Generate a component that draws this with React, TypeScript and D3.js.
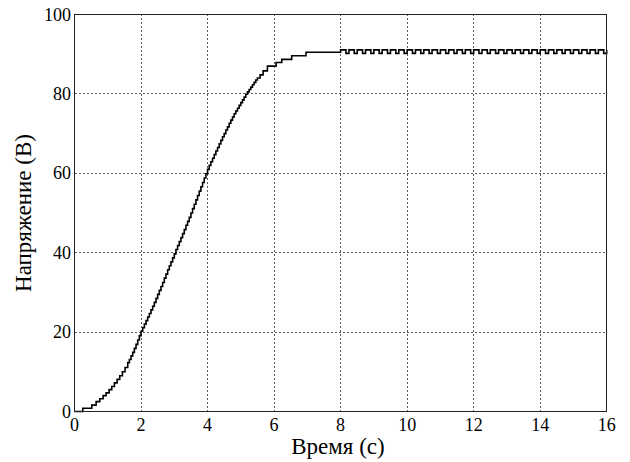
import React from "react";
import * as d3 from "d3";

const X_TICKS = [0, 2, 4, 6, 8, 10, 12, 14, 16];
const Y_TICKS = [0, 20, 40, 60, 80, 100];
const X_LABEL = "Время (с)";
const Y_LABEL = "Напряжение (В)";

const RISE_T = [
  0, 0.25, 0.52, 0.65, 0.76, 0.86, 0.95, 1.04, 1.12, 1.2, 1.28, 1.36, 1.44, 1.52,
  1.6, 1.65, 1.7, 1.75, 1.8, 1.85, 1.9, 1.95, 2.0, 2.05, 2.1, 2.15, 2.2, 2.25, 2.3, 2.35,
  2.4, 2.45, 2.5, 2.55, 2.6, 2.65, 2.7, 2.75, 2.8, 2.85, 2.9, 2.95, 3.0, 3.05, 3.1, 3.15,
  3.2, 3.25, 3.3, 3.35, 3.4, 3.45, 3.5, 3.55, 3.6, 3.65, 3.7, 3.75, 3.8, 3.85, 3.9, 3.95,
  4.0, 4.05, 4.1, 4.15, 4.2, 4.25, 4.3, 4.35, 4.4, 4.45, 4.5, 4.55, 4.6, 4.65, 4.7, 4.75,
  4.8, 4.85, 4.9, 4.95, 5.0, 5.05, 5.1, 5.15, 5.2, 5.25, 5.3, 5.35, 5.4, 5.45, 5.5,
  5.58, 5.67, 5.8, 6.06, 6.23, 6.53, 6.96,
];
const RISE_V = [
  0, 0.8, 1.6, 2.5, 3.2, 4.0, 4.7, 5.5, 6.3, 7.2, 8.1, 9.0, 10.0, 11.1,
  12.3, 13.1, 14.0, 14.9, 15.9, 16.9, 18.0, 19.1, 20.2, 21.1, 22.0, 22.9, 23.8, 24.7, 25.6, 26.5,
  27.5, 28.5, 29.5, 30.5, 31.5, 32.5, 33.6, 34.6, 35.7, 36.7, 37.7, 38.7, 39.7, 40.8, 41.8, 42.8,
  43.8, 44.8, 45.8, 46.9, 47.9, 48.9, 50.0, 51.1, 52.2, 53.3, 54.4, 55.5, 56.6, 57.7, 58.8, 59.9,
  61.0, 62.0, 62.9, 63.8, 64.7, 65.6, 66.5, 67.4, 68.3, 69.2, 70.0, 70.9, 71.7, 72.6, 73.4, 74.2,
  75.0, 75.7, 76.4, 77.1, 77.8, 78.5, 79.2, 79.9, 80.5, 81.1, 81.7, 82.3, 82.9, 83.5, 84.0,
  84.8, 85.8, 87.0, 87.9, 88.7, 89.6, 90.5,
];
const OSC_T = [
  8.0, 8.16, 8.25, 8.41, 8.5, 8.66, 8.75, 8.91, 9.0, 9.16, 9.25, 9.41, 9.5, 9.66, 9.75, 9.91,
  10.0, 10.16, 10.25, 10.41, 10.5, 10.66, 10.75, 10.91, 11.0, 11.16, 11.25, 11.41, 11.5, 11.66, 11.75, 11.91,
  12.0, 12.16, 12.25, 12.41, 12.5, 12.66, 12.75, 12.91, 13.0, 13.16, 13.25, 13.41, 13.5, 13.66, 13.75, 13.91,
  14.0, 14.16, 14.25, 14.41, 14.5, 14.66, 14.75, 14.91, 15.0, 15.16, 15.25, 15.41, 15.5, 15.66, 15.75, 15.91,
  16.0,
];
const OSC_V = [
  91.1, 90.2, 91.1, 90.2, 91.1, 90.2, 91.1, 90.2, 91.1, 90.2, 91.1, 90.2, 91.1, 90.2, 91.1, 90.2,
  91.1, 90.2, 91.1, 90.2, 91.1, 90.2, 91.1, 90.2, 91.1, 90.2, 91.1, 90.2, 91.1, 90.2, 91.1, 90.2,
  91.1, 90.2, 91.1, 90.2, 91.1, 90.2, 91.1, 90.2, 91.1, 90.2, 91.1, 90.2, 91.1, 90.2, 91.1, 90.2,
  91.1, 90.2, 91.1, 90.2, 91.1, 90.2, 91.1, 90.2, 91.1, 90.2, 91.1, 90.2, 91.1, 90.2, 91.1, 90.2,
  91.1,
];

const W = 630;
const H = 462;
const M = { left: 74.5, right: 630 - 606.7, top: 14.5, bottom: 462 - 411.5 };
const SERIF = "'Liberation Serif', 'Times New Roman', Tinos, serif";

export default function App() {
  const x = d3.scaleLinear().domain([0, 16]).range([M.left, W - M.right]);
  const y = d3.scaleLinear().domain([0, 100]).range([H - M.bottom, M.top]);

  const pts: [number, number][] = [];
  RISE_T.forEach((t, i) => pts.push([t, RISE_V[i]]));
  OSC_T.forEach((t, i) => pts.push([t, OSC_V[i]]));

  const line = d3
    .line<[number, number]>()
    .x((d) => x(d[0]))
    .y((d) => y(d[1]))
    .curve(d3.curveStepAfter);

  const x0 = x(0), x1 = x(16), y0 = y(0), y1 = y(100);

  return (
    <svg
      width={W}
      height={H}
      fontFamily={SERIF}
      style={{ position: "absolute", left: 0, top: 0, background: "#fff", fontFamily: SERIF }}
    >
      <rect x={0} y={0} width={W} height={H} fill="#fff" />
      <g stroke="#333" strokeWidth={0.8} strokeDasharray="2,2" shapeRendering="crispEdges">
        {X_TICKS.slice(1, -1).map((t) => (
          <line key={"gx" + t} x1={x(t)} x2={x(t)} y1={y0} y2={y1} />
        ))}
        {Y_TICKS.slice(1, -1).map((t) => (
          <line key={"gy" + t} x1={x0} x2={x1} y1={y(t)} y2={y(t)} />
        ))}
      </g>
      <path d={line(pts) || ""} fill="none" stroke="#000" strokeWidth={1.6} />
      <rect
        x={x0}
        y={y1}
        width={x1 - x0}
        height={y0 - y1}
        fill="none"
        stroke="#222"
        strokeWidth={1}
        shapeRendering="crispEdges"
      />
      {X_TICKS.map((t) => (
        <text key={"tx" + t} x={x(t)} y={431} textAnchor="middle" style={{ fontFamily: SERIF, fontSize: "18px" }}>
          {t}
        </text>
      ))}
      {Y_TICKS.map((t) => (
        <text key={"ty" + t} x={71} y={y(t) + 6} textAnchor="end" style={{ fontFamily: SERIF, fontSize: "18px" }}>
          {t}
        </text>
      ))}
      <text x={338} y={454} textAnchor="middle" style={{ fontFamily: SERIF, fontSize: "23px" }}>
        {X_LABEL}
      </text>
      <text
        transform={`translate(31, ${(y0 + y1) / 2}) rotate(-90)`}
        textAnchor="middle"
        style={{ fontFamily: SERIF, fontSize: "23px" }}
      >
        {Y_LABEL}
      </text>
    </svg>
  );
}
